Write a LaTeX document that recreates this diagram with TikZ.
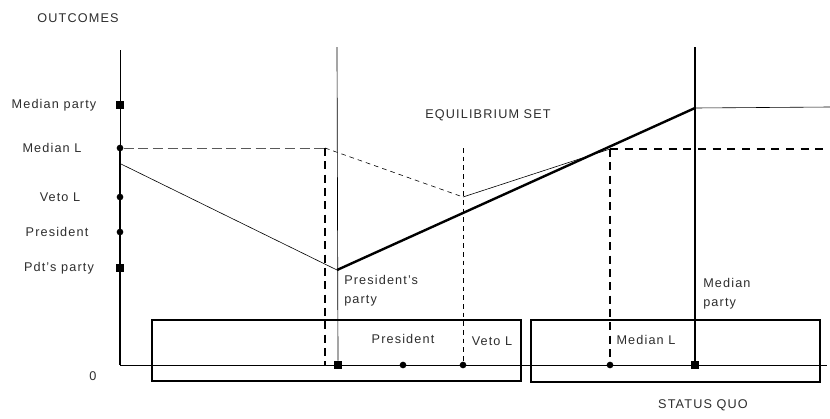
\documentclass[tikz,border=0pt]{standalone}
\usepackage{fontspec}
\setmainfont{Liberation Sans}[LetterSpace=9]
\usetikzlibrary{positioning}
\definecolor{inkgray}{RGB}{45,45,45}
\tikzset{
  lbl/.style={font=\fontsize{9.5}{14}\selectfont,text=inkgray,inner sep=0pt,align=left},
  sqmark/.style={fill=black,minimum size=6pt,inner sep=0pt},
  dotmark/.style={circle,fill=black,minimum size=5pt,inner sep=0pt},
  axisline/.style={line width=0.5pt},
  boxline/.style={line width=0.8pt},
  longdash/.style={line width=0.8pt,dash pattern=on 6pt off 4pt},
  greydash/.style={line width=0.7pt,black!65,dash pattern=on 7.5pt off 3.5pt},
  widedash/.style={line width=0.9pt,dash pattern=on 6pt off 5pt},
  shortdash/.style={line width=0.45pt,dash pattern=on 3.5pt off 3pt},
  thinline/.style={line width=0.45pt},
  eqline/.style={line width=1.8pt},
}

\begin{document}
\begin{tikzpicture}[x=0.75pt,y=-0.75pt]
  \useasboundingbox (0,0) rectangle (830,418);
  % axes
  \coordinate (O) at (120,365);
  \coordinate (ytop) at (120,50);
  \coordinate (xend) at (827,365);
  \node[lbl] (outc) at (78,18) {OUTCOMES};
  \node[lbl] (zero) at (93,376) {0};
  \draw[axisline] (ytop) -- (120,148);
  \draw[line width=1pt] (120,148) -- (O);
  \draw[axisline] (O) -- (xend);

  % markers and names on the outcome axis
  \foreach \nm/\y/\cx/\mk/\txt in {mp/105/54/sqmark/Median party,ml/148/52/dotmark/Median L,
      vl/197/60/dotmark/Veto L,pr/232/57/dotmark/President,pp/268/59/sqmark/Pdt's party}{
    \node[\mk] (\nm) at (120,\y) {};
    \node[lbl] (\nm-t) at (\cx,\y) {\txt};
  }

  % boxes of the status quo axis
  \draw[boxline] (152,320) rectangle (521,381);
  \draw[boxline] (531,320) rectangle (820,382);

  % vertical cuts
  \coordinate (ptop) at (337,47);
  \coordinate (mtop) at (695,47);
  \node[sqmark] (sqp) at (338,365) {};
  \node[dotmark] (sqr) at (403,365) {};
  \node[dotmark] (sqv) at (463,365) {};
  \node[dotmark] (sql) at (610,365) {};
  \node[sqmark] (sqm) at (695,365) {};
  \draw[axisline] (ptop) -- (sqp);
  \draw[line width=0.9pt] (mtop) -- (sqm);

  % outcome curves
  \coordinate (kp) at (337,270);
  \coordinate (km) at (695,108);
  \coordinate (aL) at (325,148);
  \coordinate (aV) at (463,197);
  \coordinate (aM) at (610,149);
  \draw[thinline] (121,164) -- (kp);
  \draw[eqline] (kp) -- (km);
  \draw[thinline] (km) -- (830,107);
  \draw[greydash] (ml) -- (aL);
  \draw[shortdash] (aL) -- (aV);
  \draw[thinline] (aV) -- (aM);
  \draw[widedash] (aM) -- (830,149);

  % projections
  \draw[longdash] (aL) -- (325,365);
  \draw[shortdash] (463,148) -- (sqv);
  \draw[longdash] (aM) -- (sql);

  % labels
  \node[lbl] (eqset) at (488,115) {EQUILIBRIUM SET};
  \node[lbl,anchor=north west] (ppty) at (344,275) {President's\\party};
  \node[lbl,anchor=north west] (mpty) at (703,278) {Median\\party};
  \node[lbl] (bpres) at (403,339) {President};
  \node[lbl] (bveto) at (492,341) {Veto L};
  \node[lbl] (bmed) at (646,340) {Median L};
  \node[lbl] (squo) at (703,405) {STATUS QUO};
\end{tikzpicture}
\end{document}
